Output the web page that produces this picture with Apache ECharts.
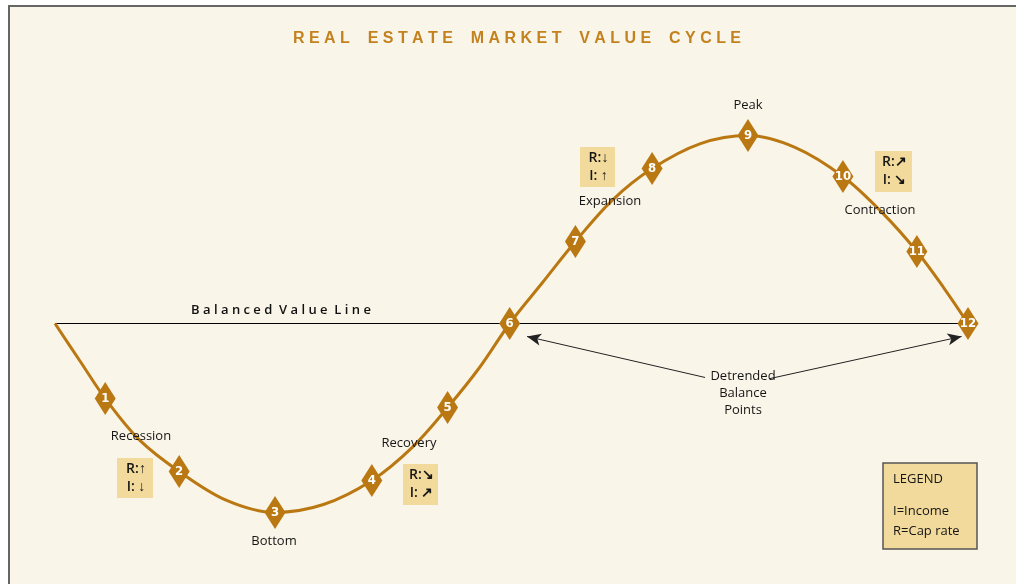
<!DOCTYPE html>
<html>
<head>
<meta charset="utf-8">
<script src="https://cdn.jsdelivr.net/npm/echarts@6/dist/echarts.min.js"></script>
<style>
html,body{margin:0;padding:0;background:#ffffff;width:1016px;height:584px;overflow:hidden;}
#frame{position:absolute;left:8px;top:5px;width:1008px;height:579px;background:#FAF5E9;border-left:2px solid #666;border-top:2px solid #666;box-sizing:border-box;}
#chart{position:absolute;left:0;top:0;width:1016px;height:584px;}
</style>
</head>
<body>
<div id="frame"></div>
<div id="chart"></div>
<script>
// Curve (cycle position 0..100, value relative to balanced line)
const curveX = [0, 2.7, 5.5, 9.3, 13.6, 18.8, 24.1, 29.4, 34.7, 39.1, 43.0, 46.5, 49.8, 53.4, 57.0, 61.0, 65.4, 70.7, 75.9, 81.1, 86.3, 90.6, 94.4, 97.4, 100];
const curveY = [0, -19.7, -39.9, -62.2, -78.7, -94.1, -100.5, -96.3, -83.5, -66.0, -44.7, -23.4, 0, 21.8, 43.6, 65.4, 82.4, 95.7, 100, 93.6, 78.2, 59.0, 38.3, 18.6, 0];
// Numbered phase markers
const markerLabels = ['1','2','3','4','5','6','7','8','9','10','11','12'];
const markerX = [5.5, 13.6, 24.1, 34.7, 43.0, 49.8, 57.0, 65.4, 75.9, 86.3, 94.4, 100];
const markerY = [-39.9, -78.7, -100.5, -83.5, -44.7, 0, 43.6, 82.4, 100, 78.2, 38.3, 0];
// Balanced value line
const balanceX = [0, 100];
const balanceY = [0, 0];
// Texts
const titleText = 'REAL ESTATE MARKET VALUE CYCLE';
const phaseNames = ['Peak','Expansion','Contraction','Recession','Recovery','Bottom'];

const GOLD = '#BA7812';
const BOX = '#F2DA9C';
const FONT = '"Open Sans", "Noto Sans", sans-serif';

function spaced(s, gap, wordGap){
  return s.split(' ').map(w => w.split('').join(gap)).join(wordGap);
}

const chart = echarts.init(document.getElementById('chart'), null, {renderer:'canvas'});

function txt(x, y, s, extra){
  return {
    type:'text', x:x, y:y, z:20,
    style:Object.assign({text:s, fill:'#151515', font:'13px ' + FONT, align:'center', verticalAlign:'middle'}, extra||{})
  };
}
function riBox(x, y, w, h, r, i){
  return {
    type:'group', x:x, y:y, z:15,
    children:[
      {type:'rect', shape:{x:0,y:0,width:w,height:h}, style:{fill:BOX}},
      {type:'text', x:w/2+1, y:h/2, style:{text:'R:' + r + '\nI: ' + i, fill:'#151515', font:'600 14px ' + FONT, lineHeight:18, align:'center', verticalAlign:'middle'}}
    ]
  };
}

const option = {
  animation:false,
  backgroundColor:'transparent',
  grid:{left:55, right:48, top:41.5, bottom:16.1, containLabel:false},
  xAxis:{type:'value', min:0, max:100, show:false},
  yAxis:{type:'value', min:-130, max:150, show:false},
  series:[
    {
      type:'line', data:balanceX.map((x,k)=>[x, balanceY[k]]),
      showSymbol:false, lineStyle:{color:'#000', width:1}, z:1, silent:true,
      markLine:{
        silent:true, symbol:['none','arrow'], symbolSize:[9,14],
        lineStyle:{color:'#222', width:1, type:'solid'}, label:{show:false},
        data:[
          [{coord:[71.2,-28.7]},{coord:[51.7,-6.9]}],
          [{coord:[78.3,-29.3]},{coord:[99.3,-6.9]}]
        ]
      }
    },
    {
      type:'line', data:curveX.map((x,k)=>[x, curveY[k]]),
      smooth:0.35, showSymbol:false, lineStyle:{color:GOLD, width:3}, z:2, silent:true
    },
    {
      type:'scatter', z:3,
      data:markerX.map((x,k)=>({value:[x, markerY[k]], name:markerLabels[k]})),
      symbol:'diamond', symbolSize:[21,33],
      itemStyle:{color:GOLD, opacity:1},
      label:{show:true, position:'inside', formatter:p=>p.name, color:'#fff', fontWeight:'bold', fontSize:13, fontFamily:'"Liberation Sans Narrow", "DejaVu Sans Condensed", sans-serif'}
    }
  ],
  graphic:[
    txt(517, 39, spaced(titleText,' ','    '), {fill:'#C4821E', font:'bold 16px "Liberation Sans", Arial, sans-serif'}),
    txt(281, 310, spaced('Balanced Value Line',' ','  '), {fill:'#111', font:'600 13px ' + FONT}),
    txt(748, 105, phaseNames[0]),
    txt(610, 201, phaseNames[1]),
    txt(880, 210, phaseNames[2]),
    txt(141, 436, phaseNames[3]),
    txt(409, 443, phaseNames[4]),
    txt(274, 541, phaseNames[5]),
    txt(743, 393, 'Detrended\nBalance\nPoints', {lineHeight:17}),
    riBox(580, 147, 35, 40, '\u2193', '\u2191'),
    riBox(875, 151, 37, 41, '\u2197', '\u2198'),
    riBox(117, 458, 36, 40, '\u2191', '\u2193'),
    riBox(403, 464, 35, 41, '\u2198', '\u2197'),
    {
      type:'group', x:883, y:463, z:15,
      children:[
        {type:'rect', shape:{x:0,y:0,width:94,height:86}, style:{fill:BOX, stroke:'#555', lineWidth:1.5}},
        {type:'text', x:10, y:16, style:{text:'LEGEND', fill:'#151515', font:'13px ' + FONT, verticalAlign:'middle'}},
        {type:'text', x:10, y:48, style:{text:'I=Income', fill:'#151515', font:'13px ' + FONT, verticalAlign:'middle'}},
        {type:'text', x:10, y:68, style:{text:'R=Cap rate', fill:'#151515', font:'13px ' + FONT, verticalAlign:'middle'}}
      ]
    }
  ]
};
chart.setOption(option);
</script>
</body>
</html>
